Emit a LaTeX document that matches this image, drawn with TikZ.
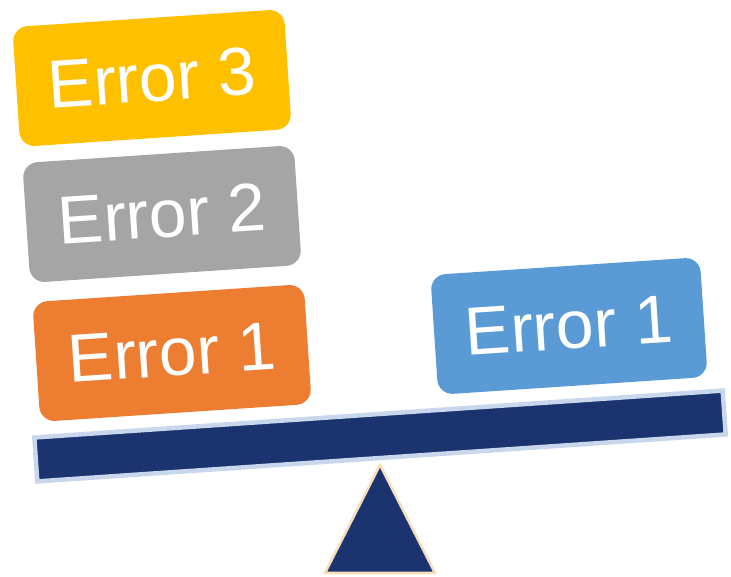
\documentclass[tikz,border=0pt]{standalone}
\usepackage{fontspec}
\setmainfont{Liberation Sans}
\usepackage{tikz}
\usetikzlibrary{calc}

\definecolor{errorange}{HTML}{ED7D31}
\definecolor{errgray}{HTML}{A5A5A5}
\definecolor{erryellow}{HTML}{FFC000}
\definecolor{errblue}{HTML}{5B9BD5}
\definecolor{navy}{HTML}{1B3470}
\definecolor{beamedge}{HTML}{C9D7EC}
\definecolor{pivotedge}{HTML}{F9DDB9}

\begin{document}
\begin{tikzpicture}[x=1pt, y=1pt,
	errbox/.style={rounded corners=15pt, minimum width=272pt, minimum height=120pt,
		inner sep=0pt, text=white, font=\fontsize{68}{80}\selectfont, rotate=3.8}]

\useasboundingbox (0,0) rectangle (731,577);

% left pan: three errors stacked
\node[errbox, fill=errorange] (leftone) at (172,224) {Error 1};
\node[errbox, fill=errgray] (lefttwo) at (162,363) {Error 2};
\node[errbox, fill=erryellow] (leftthree) at (152,499) {Error 3};

% right pan
\node[errbox, fill=errblue, minimum width=270pt] (rightone) at (569,251) {Error 1};

% beam and pivot
\node[draw=beamedge, line width=4.5pt, fill=navy, minimum width=690pt, minimum height=44pt,
	inner sep=0pt, rotate=3.9] (beam) at (380,141) {};
\filldraw[draw=pivotedge, fill=navy, line width=2.5pt, line join=miter] (380,112) -- (325,4) -- (435,4) -- cycle;

\end{tikzpicture}
\end{document}
